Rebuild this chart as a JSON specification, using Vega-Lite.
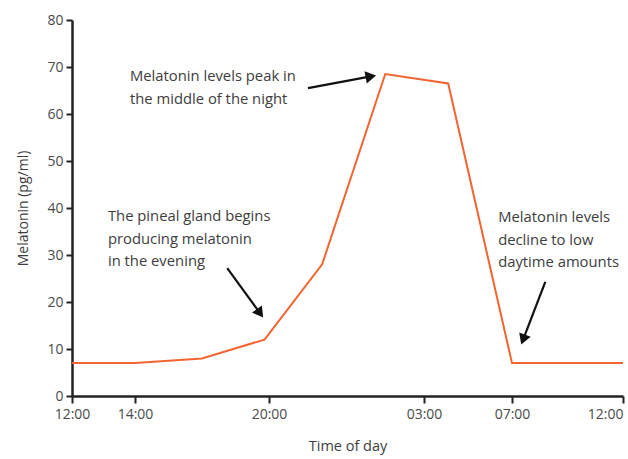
{
  "$schema": "https://vega.github.io/schema/vega-lite/v6.json",
  "width": 551,
  "height": 376,
  "autosize": {"type": "none"},
  "padding": {"left": 72, "top": 20, "right": 5, "bottom": 63},
  "background": "white",
  "config": {
    "view": {"stroke": null},
    "font": "Open Sans"
  },
  "datasets": {
    "series": [
      {"hours": 0, "melatonin": 7},
      {"hours": 2, "melatonin": 7},
      {"hours": 5, "melatonin": 8},
      {"hours": 7.8, "melatonin": 12},
      {"hours": 10.4, "melatonin": 28},
      {"hours": 13.25, "melatonin": 68.5},
      {"hours": 16.1, "melatonin": 66.5},
      {"hours": 19, "melatonin": 7},
      {"hours": 24, "melatonin": 7}
    ],
    "notes": [
      {"hours": 1.84, "melatonin": 67.0, "label": ["Melatonin levels peak in", "the middle of the night"]},
      {"hours": 1.14, "melatonin": 37.2, "label": ["The pineal gland begins", "producing melatonin", "in the evening"]},
      {"hours": 18.37, "melatonin": 37.0, "label": ["Melatonin levels", "decline to low", "daytime amounts"]}
    ],
    "arrows": [
      {"h0": 9.76, "m0": 65.5, "h1": 12.6, "m1": 68.0, "hh": 12.6, "mh": 68.0, "dir": 349.5},
      {"h0": 6.13, "m0": 27.2, "h1": 7.6, "m1": 17.6, "hh": 7.6, "mh": 17.6, "dir": 53.8},
      {"h0": 20.5, "m0": 24.3, "h1": 19.5, "m1": 12.0, "hh": 19.5, "mh": 12.0, "dir": 110.7}
    ]
  },
  "layer": [
    {
      "data": {"name": "series"},
      "mark": {"type": "line", "color": "#f26430", "strokeWidth": 2},
      "encoding": {
        "x": {
          "field": "hours",
          "type": "quantitative",
          "scale": {"domain": [0, 2, 8, 15, 19, 24], "range": [0, 63, 197, 352, 440, 551], "zero": false, "nice": false},
          "axis": {
            "title": "Time of day",
            "values": [0, 2, 8, 15, 19, 24],
            "labelExpr": "datum.value == 0 || datum.value == 24 ? '12:00' : datum.value == 2 ? '14:00' : datum.value == 8 ? '20:00' : datum.value == 15 ? '03:00' : '07:00'",
            "labelAlign": {"condition": {"test": "datum.value == 24", "value": "right"}, "value": "center"},
            "labelBound": false,
            "labelFlush": false,
            "labelOverlap": false,
            "labelFontSize": 14,
            "labelColor": "#4a4a4a",
            "labelPadding": 4,
            "titleFontSize": 14.5,
            "titleFontWeight": "normal",
            "titleColor": "#3d3d3d",
            "titlePadding": 18,
            "domainColor": "#222222",
            "domainWidth": 2.5,
            "tickColor": "#222222",
            "tickWidth": 2,
            "tickSize": 7,
            "grid": false
          }
        },
        "y": {
          "field": "melatonin",
          "type": "quantitative",
          "scale": {"domain": [0, 80], "nice": false},
          "axis": {
            "title": "Melatonin (pg/ml)",
            "values": [0, 10, 20, 30, 40, 50, 60, 70, 80],
            "labelFontSize": 14,
            "labelColor": "#4a4a4a",
            "labelPadding": 3,
            "titleFontSize": 14,
            "titleFontWeight": "normal",
            "titleColor": "#3d3d3d",
            "titlePadding": 16,
            "domainColor": "#222222",
            "domainWidth": 2.5,
            "tickColor": "#222222",
            "tickWidth": 2,
            "tickSize": 6,
            "grid": false
          }
        }
      }
    },
    {
      "data": {"name": "notes"},
      "mark": {"type": "text", "align": "left", "baseline": "alphabetic", "fontSize": 14.8, "lineHeight": 22.5, "color": "#3d3d3d"},
      "encoding": {
        "x": {"field": "hours", "type": "quantitative"},
        "y": {"field": "melatonin", "type": "quantitative"},
        "text": {"field": "label"}
      }
    },
    {
      "data": {"name": "arrows"},
      "mark": {"type": "rule", "color": "#111111", "strokeWidth": 2.2},
      "encoding": {
        "x": {"field": "h0", "type": "quantitative"},
        "y": {"field": "m0", "type": "quantitative"},
        "x2": {"field": "h1"},
        "y2": {"field": "m1"}
      }
    },
    {
      "data": {"name": "arrows"},
      "mark": {"type": "point", "shape": "triangle-right", "filled": true, "color": "#111111", "size": 150, "opacity": 1},
      "encoding": {
        "x": {"field": "hh", "type": "quantitative"},
        "y": {"field": "mh", "type": "quantitative"},
        "angle": {"field": "dir", "type": "quantitative", "scale": null}
      }
    }
  ]
}
